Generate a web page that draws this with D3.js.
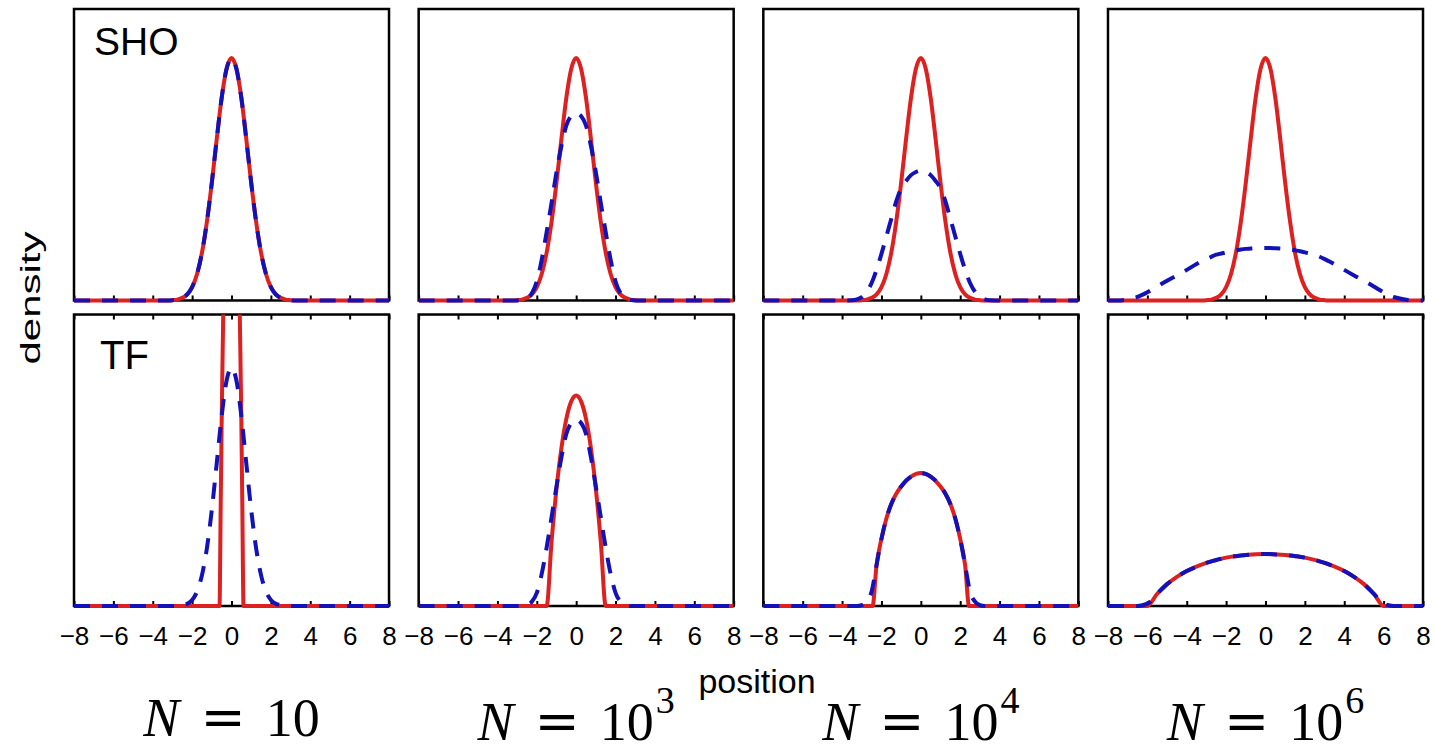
<!DOCTYPE html>
<html>
<head>
<meta charset="utf-8">
<script src="https://cdnjs.cloudflare.com/ajax/libs/d3/7.8.5/d3.min.js"></script>
<style>
  body { margin: 0; background: #fff; }
  svg { display: block; font-family: "Liberation Sans", Arial, sans-serif; }
</style>
</head>
<body>
<div id="chart"></div>
<script>
// Data (density in units of panel height)

var rowNames = ["SHO", "TF"];
var nBase = ["10", "10", "10", "10"];
var nExp = ["", "3", "4", "6"];
var xTicks = [-8, -6, -4, -2, 0, 2, 4, 6, 8];

// shared position grid
var pos = [-8, -7.5, -7, -6.5, -6, -5.5, -5, -4.5, -4, -3.5, -3.25, -3, -2.75, -2.5, -2.25, -2, -1.75, -1.5, -1.25, -1, -0.75, -0.5, -0.25,
  0, 0.25, 0.5, 0.75, 1, 1.25, 1.5, 1.75, 2, 2.25, 2.5, 2.75, 3, 3.25, 3.5, 4, 4.5, 5, 5.5, 6, 6.5, 7, 7.5, 8];

// red solid, top row (same in every column)
var shoRed = [0, 0, 0, 0, 0, 0, 0, 0, 0, 0, 0, 0.001, 0.003, 0.009, 0.021, 0.046, 0.091, 0.164, 0.27, 0.404, 0.554, 0.695, 0.795,
  0.832, 0.795, 0.695, 0.554, 0.404, 0.27, 0.164, 0.091, 0.046, 0.021, 0.009, 0.003, 0.001, 0, 0, 0, 0, 0, 0, 0, 0, 0, 0, 0];

// blue dashed, top row
var blueSho10 = [0, 0, 0, 0, 0, 0, 0, 0, 0, 0, 0, 0.001, 0.003, 0.009, 0.021, 0.046, 0.091, 0.164, 0.27, 0.404, 0.554, 0.695, 0.795,
  0.83, 0.795, 0.695, 0.554, 0.404, 0.27, 0.164, 0.091, 0.046, 0.021, 0.009, 0.003, 0.001, 0, 0, 0, 0, 0, 0, 0, 0, 0, 0, 0];
var blueSho1e3 = [0, 0, 0, 0, 0, 0, 0, 0, 0, 0, 0, 0, 0.002, 0.008, 0.025, 0.065, 0.14, 0.235, 0.335, 0.44, 0.53, 0.60, 0.633,
  0.643, 0.633, 0.60, 0.53, 0.44, 0.335, 0.235, 0.14, 0.065, 0.025, 0.008, 0.002, 0, 0, 0, 0, 0, 0, 0, 0, 0, 0, 0, 0];
var blueSho1e4 = [0, 0, 0, 0, 0, 0, 0, 0, 0, 0.001, 0.004, 0.012, 0.03, 0.06, 0.105, 0.16, 0.22, 0.28, 0.34, 0.385, 0.41, 0.43, 0.441,
  0.446, 0.441, 0.43, 0.41, 0.385, 0.34, 0.28, 0.22, 0.16, 0.105, 0.06, 0.03, 0.012, 0.004, 0.001, 0, 0, 0, 0, 0, 0, 0, 0, 0];
var blueSho1e6 = [0, 0, 0.004, 0.012, 0.028, 0.048, 0.068, 0.086, 0.105, 0.125, 0.134, 0.142, 0.15, 0.157, 0.161, 0.165, 0.169, 0.172, 0.175, 0.177, 0.178, 0.179, 0.18,
  0.18, 0.18, 0.179, 0.178, 0.177, 0.175, 0.172, 0.169, 0.165, 0.161, 0.157, 0.15, 0.142, 0.134, 0.125, 0.105, 0.086, 0.068, 0.048, 0.028, 0.012, 0.004, 0, 0];

// blue dashed, bottom row
var blueTf10 = [0, 0, 0, 0, 0, 0, 0, 0, 0, 0, 0, 0, 0, 0.003, 0.008, 0.021, 0.05, 0.106, 0.198, 0.33, 0.49, 0.652, 0.773,
  0.818, 0.773, 0.652, 0.49, 0.33, 0.198, 0.106, 0.05, 0.021, 0.008, 0.003, 0, 0, 0, 0, 0, 0, 0, 0, 0, 0, 0, 0, 0];
var blueTf1e3 = [0, 0, 0, 0, 0, 0, 0, 0, 0, 0, 0, 0, 0, 0.004, 0.015, 0.045, 0.11, 0.2, 0.305, 0.41, 0.51, 0.59, 0.628,
  0.639, 0.628, 0.59, 0.51, 0.41, 0.305, 0.2, 0.11, 0.045, 0.015, 0.004, 0, 0, 0, 0, 0, 0, 0, 0, 0, 0, 0, 0, 0];
var blueTf1e4 = [0, 0, 0, 0, 0, 0, 0, 0, 0, 0, 0, 0.003, 0.015, 0.05, 0.14, 0.23, 0.30, 0.35, 0.385, 0.41, 0.43, 0.444, 0.453,
  0.456, 0.453, 0.444, 0.43, 0.41, 0.385, 0.35, 0.30, 0.23, 0.14, 0.05, 0.015, 0.003, 0, 0, 0, 0, 0, 0, 0, 0, 0, 0, 0];
var blueTf1e6 = [0, 0, 0, 0, 0.008, 0.042, 0.075, 0.1, 0.12, 0.135, 0.142, 0.148, 0.153, 0.158, 0.162, 0.166, 0.169, 0.171, 0.173, 0.175, 0.176, 0.177, 0.178,
  0.178, 0.178, 0.177, 0.176, 0.175, 0.173, 0.171, 0.169, 0.166, 0.162, 0.158, 0.153, 0.148, 0.142, 0.135, 0.12, 0.1, 0.075, 0.042, 0.008, 0, 0, 0, 0];

// red solid, bottom row (Thomas-Fermi), each on its own grid
var tfPos10 = [-8, -0.61, -0.55, -0.5, -0.45, -0.4, -0.3, -0.2, -0.1, 0, 0.1, 0.2, 0.3, 0.4, 0.45, 0.5, 0.55, 0.61, 8];
var tfRed10 = [0, 0, 0.34, 0.63, 0.87, 1.09, 1.45, 1.70, 1.86, 1.91, 1.86, 1.70, 1.45, 1.09, 0.87, 0.63, 0.34, 0, 0];
var tfPos1e3 = [-8, -1.5, -1.25, -1, -0.75, -0.5, -0.25, 0, 0.25, 0.5, 0.75, 1, 1.25, 1.5, 8];
var tfRed1e3 = [0, 0, 0.221, 0.401, 0.541, 0.642, 0.702, 0.722, 0.702, 0.642, 0.541, 0.401, 0.221, 0, 0];
var tfPos1e4 = [-8, -2.45, -2.25, -2, -1.75, -1.5, -1.25, -1, -0.5, 0, 0.5, 1, 1.25, 1.5, 1.75, 2, 2.25, 2.45, 8];
var tfRed1e4 = [0, 0, 0.14, 0.23, 0.30, 0.35, 0.385, 0.41, 0.444, 0.456, 0.444, 0.41, 0.385, 0.35, 0.30, 0.23, 0.14, 0, 0];
var tfPos1e6 = [-8, -6, -5.5, -5, -4.5, -4, -3, -2, -1, 0, 1, 2, 3, 4, 4.5, 5, 5.5, 6, 8];
var tfRed1e6 = [0, 0, 0.042, 0.075, 0.1, 0.12, 0.148, 0.166, 0.175, 0.178, 0.175, 0.166, 0.148, 0.12, 0.1, 0.075, 0.042, 0, 0];

// Build panel table
var redColor = "#dd2020";
var blueColor = "#1212b8";

function pairs(xs, ys) {
    return xs.map(function(v, i) { return [v, ys[i]]; });
}

var panels = [
    { row: 0, col: 0, red: pairs(pos, shoRed), blue: pairs(pos, blueSho10) },
    { row: 0, col: 1, red: pairs(pos, shoRed), blue: pairs(pos, blueSho1e3) },
    { row: 0, col: 2, red: pairs(pos, shoRed), blue: pairs(pos, blueSho1e4) },
    { row: 0, col: 3, red: pairs(pos, shoRed), blue: pairs(pos, blueSho1e6) },
    { row: 1, col: 0, red: pairs(tfPos10, tfRed10), blue: pairs(pos, blueTf10) },
    { row: 1, col: 1, red: pairs(tfPos1e3, tfRed1e3), blue: pairs(pos, blueTf1e3) },
    { row: 1, col: 2, red: pairs(tfPos1e4, tfRed1e4), blue: pairs(pos, blueTf1e4) },
    { row: 1, col: 3, red: pairs(tfPos1e6, tfRed1e6), blue: pairs(pos, blueTf1e6) }
];

// Svg
var width = 1435;
var height = 753;

var svg = d3
    .select("#chart")
    .append("svg")
    .attr("width", width)
    .attr("height", height);

var colScale = d3.scaleBand().domain(d3.range(4)).range([74, 1423]).paddingInner(0.086);
var rowScale = d3.scaleBand().domain(d3.range(2)).range([9, 606]).paddingInner(0.046);

var bw = colScale.bandwidth();
var bh = rowScale.bandwidth();

var xScale = d3.scaleLinear().domain([-8, 8]).range([0, bw]);
var yScale = d3.scaleLinear().domain([0, 1]).range([bh, 0]);

var line = d3.line()
    .x(function(d) { return xScale(d[0]); })
    .y(function(d) { return yScale(d[1]); })
    .curve(d3.curveMonotoneX);

var defs = svg.append("defs");

panels.forEach(function(p, i) {
    var g = svg.append("g")
        .attr("transform", `translate(${colScale(p.col)},${rowScale(p.row)})`);

    defs.append("clipPath")
        .attr("id", "clip" + i)
        .append("rect")
        .attr("x", 0)
        .attr("y", 0)
        .attr("width", bw)
        .attr("height", bh + 4);

    // frame
    g.append("rect")
        .attr("width", bw)
        .attr("height", bh)
        .attr("fill", "none")
        .attr("stroke", "#000")
        .attr("stroke-width", 2.5);

    // inward ticks
    var bottomTicks = g.append("g")
        .attr("transform", `translate(0,${bh})`)
        .call(d3.axisBottom(xScale).tickValues(xTicks).tickSize(-5).tickFormat(""));
    bottomTicks.select(".domain").remove();
    bottomTicks.selectAll("line").attr("stroke-width", 2);

    if (p.row === 1) {
        var topTicks = g.append("g")
            .call(d3.axisTop(xScale).tickValues(xTicks).tickSize(-5).tickFormat(""));
        topTicks.select(".domain").remove();
        topTicks.selectAll("line").attr("stroke-width", 2);

        var labels = g.append("g")
            .attr("transform", `translate(0,${bh})`)
            .call(d3.axisBottom(xScale).tickValues(xTicks).tickSize(0).tickPadding(21));
        labels.select(".domain").remove();
        labels.selectAll("text")
            .attr("font-size", 26)
            .attr("font-family", "'Liberation Sans', Arial, sans-serif")
            .attr("fill", "#000");
    }

    var curves = g.append("g").attr("clip-path", `url(#clip${i})`);

    curves.append("path")
        .datum(p.red)
        .attr("d", line)
        .attr("fill", "none")
        .attr("stroke", redColor)
        .attr("stroke-width", 4);

    curves.append("path")
        .datum(p.blue)
        .attr("d", line)
        .attr("fill", "none")
        .attr("stroke", blueColor)
        .attr("stroke-width", 4)
        .attr("stroke-dasharray", "16,12");
});

// row names
svg.append("text")
    .attr("x", colScale(0) + 20)
    .attr("y", rowScale(0) + 46)
    .attr("font-size", 39)
    .text(rowNames[0]);

svg.append("text")
    .attr("x", colScale(0) + 26)
    .attr("y", rowScale(1) + 54)
    .attr("font-size", 40)
    .text(rowNames[1]);

// axis titles
svg.append("text")
    .attr("x", 757)
    .attr("y", 693)
    .attr("text-anchor", "middle")
    .attr("font-size", 34)
    .text("position");

svg.append("text")
    .attr("transform", "translate(40,298) rotate(-90) scale(1,0.66)")
    .attr("text-anchor", "middle")
    .attr("font-size", 42)
    .text("density");

// N labels under each column
nBase.forEach(function(b, i) {
    var t = svg.append("text")
        .attr("x", colScale(i) + bw / 2)
        .attr("y", i === 0 ? 736 : 740)
        .attr("text-anchor", "middle")
        .attr("font-family", "'Liberation Serif', 'Times New Roman', serif")
        .attr("font-size", 54);

    t.append("tspan").attr("font-style", "italic").text("N");
    t.append("tspan")
        .attr("dx", 21)
        .attr("font-family", "'DejaVu Serif', serif")
        .text("=");
    t.append("tspan").attr("dx", 20).text(b);
    if (nExp[i]) {
        t.append("tspan")
            .attr("dx", 2)
            .attr("dy", -27)
            .attr("font-size", 38)
            .text(nExp[i]);
    }
});
</script>
</body>
</html>
